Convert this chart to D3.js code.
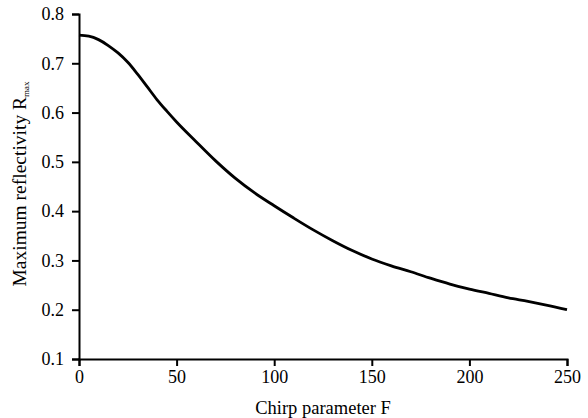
<!DOCTYPE html>
<html>
<head>
<meta charset="utf-8">
<script src="https://cdn.jsdelivr.net/npm/d3@7"></script>
<style>
  body { margin: 0; background: #fff; }
  svg text { font-family: "Times New Roman", "Liberation Serif", Times, "DejaVu Serif", serif; fill: #000; }
</style>
</head>
<body>
<svg width="588" height="418"></svg>
<script>
// values
let chirpF = [0, 5, 10, 15, 20, 25, 30, 35, 40, 45, 50, 60, 70, 80, 90, 100, 110, 120, 130, 140, 150, 160, 170, 180, 190, 200, 210, 220, 230, 240, 250];
let rMax = [0.757, 0.755, 0.748, 0.736, 0.721, 0.702, 0.678, 0.652, 0.626, 0.603, 0.581, 0.541, 0.502, 0.467, 0.437, 0.411, 0.386, 0.362, 0.340, 0.320, 0.303, 0.289, 0.277, 0.264, 0.252, 0.242, 0.233, 0.224, 0.217, 0.209, 0.200];
let xTicks = [0, 50, 100, 150, 200, 250];
let yTicks = [0.1, 0.2, 0.3, 0.4, 0.5, 0.6, 0.7, 0.8];

let svg = d3.select("svg");
let x = d3.scaleLinear().domain([0, 250]).range([79, 567]);
let y = d3.scaleLinear().domain([0.1, 0.8]).range([359, 14]);

// x axis
let gx = svg.append("g")
  .attr("transform", "translate(0,359)")
  .call(d3.axisBottom(x).tickValues(xTicks).tickSize(7).tickPadding(4).tickFormat(d3.format("d")));
gx.attr("font-family", null);
gx.select(".domain").attr("stroke", "#000").attr("stroke-width", 2);
gx.selectAll(".tick line").attr("stroke", "#000").attr("stroke-width", 2);
gx.selectAll("text").attr("font-size", 18);

// y axis
let gy = svg.append("g")
  .attr("transform", "translate(79,0)")
  .call(d3.axisLeft(y).tickValues(yTicks).tickSize(7).tickPadding(8).tickFormat(d3.format(".1f")));
gy.attr("font-family", null);
gy.select(".domain").attr("stroke", "#000").attr("stroke-width", 2);
gy.selectAll(".tick line").attr("stroke", "#000").attr("stroke-width", 2);
gy.selectAll("text").attr("font-size", 18);

// the curve
let line = d3.line()
  .x((d, i) => x(chirpF[i]))
  .y((d) => y(d))
  .curve(d3.curveMonotoneX);

svg.append("path")
  .datum(rMax)
  .attr("d", line)
  .attr("fill", "none")
  .attr("stroke", "#000")
  .attr("stroke-width", 2.8);

// axis titles
svg.append("text")
  .attr("x", 323)
  .attr("y", 414)
  .attr("text-anchor", "middle")
  .attr("font-size", 18.5)
  .text("Chirp parameter F");

let ylab = svg.append("text")
  .attr("transform", "translate(26,184) rotate(-90)")
  .attr("text-anchor", "middle")
  .attr("font-size", 19.5);
ylab.append("tspan").text("Maximum reflectivity R");
ylab.append("tspan").attr("font-size", 9).attr("dy", 3).text("max");
</script>
</body>
</html>
